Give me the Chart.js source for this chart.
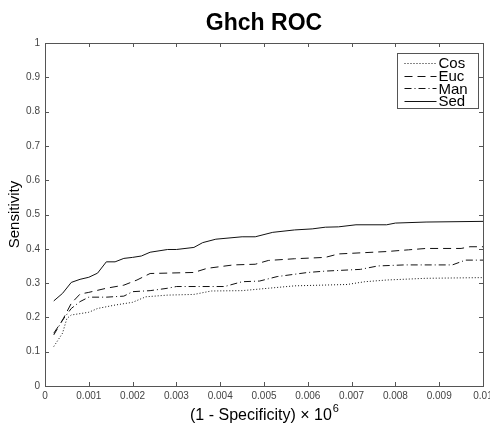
<!DOCTYPE html>
<html>
<head>
<meta charset="utf-8">
<script src="https://cdn.jsdelivr.net/npm/chart.js@4"></script>
<style>
    html, body { margin: 0; padding: 0; background: #fff; }
    canvas { display: block; }
</style>
</head>
<body>
<canvas id="roc" width="490" height="424"></canvas>
<script>
// ROC curves, one x/y pair of arrays per distance
const cosX = [0.0002, 0.0004, 0.0005, 0.0006, 0.001, 0.0012, 0.0016, 0.002, 0.0023, 0.0028, 0.0034, 0.0038, 0.0045, 0.0051, 0.0057, 0.0069, 0.0073, 0.0078, 0.0087, 0.01];
const cosY = [0.115, 0.154, 0.197, 0.207, 0.215, 0.226, 0.236, 0.244, 0.26, 0.265, 0.267, 0.277, 0.278, 0.285, 0.292, 0.296, 0.304, 0.309, 0.314, 0.316];

const eucX = [0.0002, 0.0004, 0.0006, 0.0008, 0.001, 0.0014, 0.0018, 0.0021, 0.0024, 0.0034, 0.0037, 0.0043, 0.0048, 0.0051, 0.0057, 0.0064, 0.0067, 0.0078, 0.0083, 0.0087, 0.0095, 0.0097, 0.01];
const eucY = [0.154, 0.192, 0.241, 0.268, 0.273, 0.285, 0.294, 0.309, 0.328, 0.331, 0.343, 0.353, 0.355, 0.366, 0.371, 0.375, 0.385, 0.392, 0.397, 0.401, 0.401, 0.406, 0.406];

const manX = [0.0002, 0.0004, 0.0006, 0.0008, 0.001, 0.0014, 0.0018, 0.002, 0.0024, 0.0028, 0.003, 0.0041, 0.0045, 0.0049, 0.0053, 0.006, 0.0064, 0.0072, 0.0076, 0.0082, 0.0093, 0.0096, 0.01];
const manY = [0.149, 0.192, 0.226, 0.246, 0.259, 0.259, 0.262, 0.275, 0.278, 0.285, 0.29, 0.29, 0.304, 0.306, 0.319, 0.331, 0.335, 0.34, 0.35, 0.353, 0.353, 0.367, 0.367];

const sedX = [0.0002, 0.0004, 0.0006, 0.0008, 0.001, 0.0012, 0.0014, 0.0016, 0.0018, 0.002, 0.0022, 0.0024, 0.0028, 0.003, 0.0034, 0.0036, 0.0039, 0.0045, 0.0048, 0.0052, 0.0057, 0.0061, 0.0064, 0.0067, 0.0071, 0.0078, 0.008, 0.0087, 0.01];
const sedY = [0.248, 0.27, 0.302, 0.311, 0.317, 0.329, 0.362, 0.362, 0.372, 0.375, 0.379, 0.39, 0.398, 0.398, 0.404, 0.418, 0.428, 0.435, 0.435, 0.448, 0.455, 0.458, 0.463, 0.464, 0.47, 0.47, 0.475, 0.478, 0.48];

const seriesNames = ['Cos', 'Euc', 'Man', 'Sed'];
const seriesDash = [[1, 2], [8, 5], [7, 3, 1, 3], []];

const FONT = "'Liberation Sans', Arial, Helvetica, sans-serif";
const INK = '#111';
const AXIS = '#555';

function pts(xs, ys) {
    return xs.map((x, i) => ({ x, y: ys[i] }));
}

// frame with inward ticks on all four sides, x title with superscript, legend box
const matlabFrame = {
    id: 'matlabFrame',
    afterDraw(chart) {
        const { ctx, chartArea: a, scales } = chart;
        const len = 4;
        ctx.save();
        ctx.strokeStyle = AXIS;
        ctx.lineWidth = 1;
        ctx.setLineDash([]);
        ctx.strokeRect(Math.round(a.left) + 0.5, Math.round(a.top) + 0.5,
            Math.round(a.right - a.left), Math.round(a.bottom - a.top));
        ctx.beginPath();
        scales.x.ticks.forEach(t => {
            const px = Math.round(scales.x.getPixelForValue(t.value)) + 0.5;
            ctx.moveTo(px, a.bottom); ctx.lineTo(px, a.bottom - len);
            ctx.moveTo(px, a.top); ctx.lineTo(px, a.top + len);
        });
        scales.y.ticks.forEach(t => {
            const py = Math.round(scales.y.getPixelForValue(t.value)) + 0.5;
            ctx.moveTo(a.left, py); ctx.lineTo(a.left + len, py);
            ctx.moveTo(a.right, py); ctx.lineTo(a.right - len, py);
        });
        ctx.stroke();

        // x axis title: "(1 - Specificity) × 10" with a raised 6
        const main = '(1 - Specificity) × 10';
        const sup = '6';
        ctx.fillStyle = '#000';
        ctx.textBaseline = 'alphabetic';
        ctx.textAlign = 'left';
        ctx.font = '16px ' + FONT;
        const wMain = ctx.measureText(main).width;
        ctx.font = '11px ' + FONT;
        const wSup = ctx.measureText(sup).width;
        const cx = (a.left + a.right) / 2;
        const x0 = cx - (wMain + wSup) / 2;
        const base = a.bottom + 34;
        ctx.font = '16px ' + FONT;
        ctx.fillText(main, x0, base);
        ctx.font = '11px ' + FONT;
        ctx.fillText(sup, x0 + wMain + 1, base - 8);

        // legend
        const bx = 397.5, by = 53.5, bw = 81, bh = 55;
        ctx.fillStyle = '#fff';
        ctx.fillRect(bx, by, bw, bh);
        ctx.strokeStyle = AXIS;
        ctx.strokeRect(bx, by, bw, bh);
        ctx.font = '15px ' + FONT;
        ctx.textBaseline = 'middle';
        chart.data.datasets.forEach((ds, i) => {
            const y = by + 9.5 + i * 12.7;
            ctx.strokeStyle = INK;
            ctx.setLineDash(ds.borderDash);
            ctx.beginPath();
            ctx.moveTo(bx + 7, Math.round(y) + 0.5);
            ctx.lineTo(bx + 39, Math.round(y) + 0.5);
            ctx.stroke();
            ctx.fillStyle = '#000';
            ctx.fillText(ds.label, bx + 41, y + 1);
        });
        ctx.restore();
    }
};

new Chart(document.getElementById('roc'), {
    type: 'line',
    data: {
        datasets: [cosX, eucX, manX, sedX].map((xs, i) => ({
            label: seriesNames[i],
            data: pts(xs, [cosY, eucY, manY, sedY][i]),
            borderColor: INK,
            borderWidth: 1,
            borderDash: seriesDash[i],
            pointRadius: 0,
            tension: 0,
            fill: false,
        }))
    },
    options: {
        responsive: false,
        animation: false,
        events: [],
        layout: { padding: { top: 6, right: 7, bottom: 0, left: 6 } },
        plugins: {
            legend: { display: false },
            tooltip: { enabled: false },
            title: {
                display: true,
                fullSize: false,
                text: 'Ghch ROC',
                color: '#000',
                font: { family: FONT, size: 23, weight: 'bold', lineHeight: 1.2 },
                padding: { top: 3.5, bottom: 5.9 }
            }
        },
        scales: {
            x: {
                type: 'linear',
                min: 0,
                max: 0.01,
                grid: { display: false, drawTicks: false },
                border: { display: false },
                ticks: {
                    stepSize: 0.001,
                    padding: 4,
                    color: '#444',
                    font: { family: FONT, size: 10 },
                    maxRotation: 0,
                    autoSkip: false,
                    callback: v => String(Number(v.toFixed(3)))
                },
                afterFit(scale) {
                    scale.height = 38;
                    scale.paddingLeft = 0;
                    scale.paddingRight = 0;
                }
            },
            y: {
                min: 0,
                max: 1,
                grid: { display: false, drawTicks: false },
                border: { display: false },
                ticks: {
                    stepSize: 0.1,
                    padding: 5,
                    color: '#444',
                    font: { family: FONT, size: 10 },
                    callback: v => String(Math.round(v * 10) / 10)
                },
                title: {
                    display: true,
                    text: 'Sensitivity',
                    color: '#000',
                    font: { family: FONT, size: 15 },
                    padding: { top: 0, bottom: 0 }
                },
                afterFit(scale) {
                    scale.width = 39;
                    scale.paddingTop = 0;
                    scale.paddingBottom = 0;
                }
            }
        }
    },
    plugins: [matlabFrame]
});
</script>
</body>
</html>
